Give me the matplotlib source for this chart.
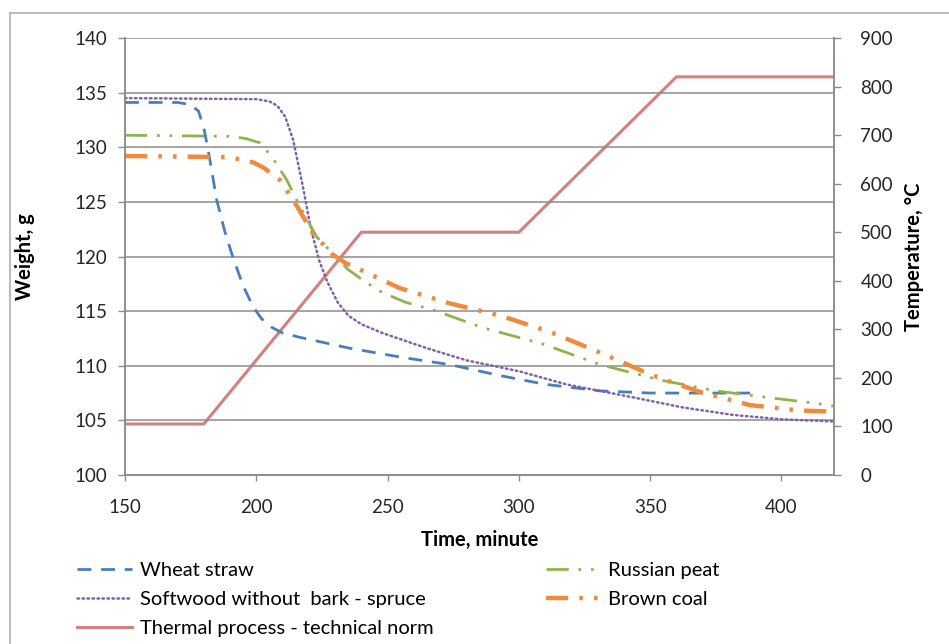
import matplotlib.pyplot as plt
from matplotlib.patches import Rectangle

plt.rcParams['font.family'] = ['Lato', 'DejaVu Sans']

# time (minute) / weight (g)
wheat_t = [150, 170, 175, 178, 180, 182, 184.9, 188, 191, 195, 198.8, 202, 206, 210, 216.6, 235.7,
           254.7, 273.8, 292.8, 310, 330.9, 350, 369, 390]
wheat_w = [134.1, 134.1, 133.9, 133.3, 131.8, 129.3, 125.2, 122.3, 120.0, 117.3, 115.4, 114.3, 113.5, 113.0,
           112.6, 111.6, 110.8, 110.1, 109.1, 108.3, 107.7, 107.5, 107.5, 107.5]

spruce_t = [150, 200, 205, 208, 211, 214, 216, 218, 220, 221.6, 224, 227, 231, 235, 240, 248, 265, 280,
            300, 318, 343.6, 362, 381.5, 400, 409.7, 420]
spruce_w = [134.5, 134.4, 134.2, 133.8, 132.8, 130.7, 128.4, 126.1, 123.5, 121.8, 119.6, 117.7, 115.8, 114.6,
            113.8, 113.0, 111.6, 110.5, 109.5, 108.3, 107.1, 106.2, 105.5, 105.1, 105.0, 104.9]

peat_t = [150, 190, 196, 201.4, 206, 211.6, 216.6, 223, 229, 235, 242, 248, 257, 267.5, 286, 309, 331,
          353.7, 375, 398, 412, 420]
peat_w = [131.1, 131.0, 130.8, 130.4, 129.1, 127.0, 124.6, 121.8, 120.3, 118.8, 117.6, 116.7, 115.8, 115.1,
          113.5, 112.0, 110.1, 108.7, 107.7, 107.0, 106.6, 106.3]

coal_t = [150, 188, 194, 199, 203, 209, 215.5, 221.6, 229, 234, 239.5, 254.7, 273.8, 292.8, 311.8, 331,
          350, 369, 388, 407, 420]
coal_w = [129.2, 129.1, 128.9, 128.6, 128.1, 127.0, 124.6, 122.1, 120.2, 119.4, 118.8, 117.1, 115.7, 114.6,
          113.1, 111.2, 109.2, 107.6, 106.4, 105.9, 105.8]

# thermal process, temperature (°C)
thermal_t = [150, 180, 240, 300, 360, 420]
thermal_T = [105, 105, 500, 500, 820, 820]

fig = plt.figure(figsize=(9.49, 6.44), dpi=100)
fig.patches.append(Rectangle((10 / 949, -0.05), 1.2, (644 - 13) / 644 + 0.05,
                             transform=fig.transFigure, fill=False,
                             edgecolor='#bdbdbd', linewidth=1.5))

ax = fig.add_axes([125 / 949, (644 - 475) / 644, (834 - 125) / 949, (475 - 38) / 644])
ax2 = ax.twinx()

gray = '#8c8c8c'
ax.set_xlim(150, 420)
ax.set_ylim(100, 140)
ax.set_yticks(range(100, 141, 5))
ax.set_xticks(range(150, 401, 50))
ax.grid(axis='y', color=gray, linewidth=1.1)
ax.set_axisbelow(True)
ax2.set_ylim(0, 900)
ax2.set_yticks(range(0, 901, 100))

for a in (ax, ax2):
    a.spines['top'].set_visible(False)
    for s in ('left', 'right', 'bottom'):
        a.spines[s].set_color(gray)
        a.spines[s].set_linewidth(1.1)
    a.tick_params(colors=gray, labelcolor='#262626', labelsize=13.5, length=5, width=1)
ax.tick_params(axis='y', pad=8)
ax2.tick_params(axis='y', pad=14)
ax.tick_params(axis='x', length=4, pad=13)

l_wheat, = ax.plot(wheat_t, wheat_w, color='#4a7ebb', linewidth=2, dashes=(5, 3.5))
l_spruce, = ax.plot(spruce_t, spruce_w, color='#7e62a8', linewidth=1.8,
                    linestyle=(0, (0.6, 1.4)), dash_capstyle='round')
l_peat, = ax.plot(peat_t, peat_w, color='#8fb44d', linewidth=2,
                  dashes=(8, 3.5, 1, 3.5, 1, 3.5))
l_coal, = ax.plot(coal_t, coal_w, color='#f08a3c', linewidth=3.2,
                  dashes=(5, 2.5, 0.8, 2.5, 0.8, 2.5))
l_thermal, = ax2.plot(thermal_t, thermal_T, color='#d4807c', linewidth=2.2)
ax.set_zorder(ax2.get_zorder() + 1)
ax.patch.set_visible(False)

ax.set_ylabel('Weight, g', fontsize=14.5, fontweight='bold', labelpad=28)
ax2.set_ylabel('Temperature, °C', fontsize=14.5, fontweight='bold', labelpad=8)
ax.set_xlabel('Time, minute', fontsize=14.5, fontweight='bold', labelpad=10)

handles = [l_wheat, l_spruce, l_thermal, l_peat, l_coal]
labels = ['Wheat straw', 'Softwood without  bark - spruce', 'Thermal process - technical norm',
          'Russian peat', 'Brown coal']
fig.legend(handles, labels, ncol=2, loc='upper left', bbox_to_anchor=(67 / 949, 1 - 552 / 644),
           frameon=False, fontsize=14.5, handlelength=2.75, columnspacing=5.6,
           labelspacing=0.58, handletextpad=0.35, borderpad=0)

fig.savefig('out.png', dpi=100)
